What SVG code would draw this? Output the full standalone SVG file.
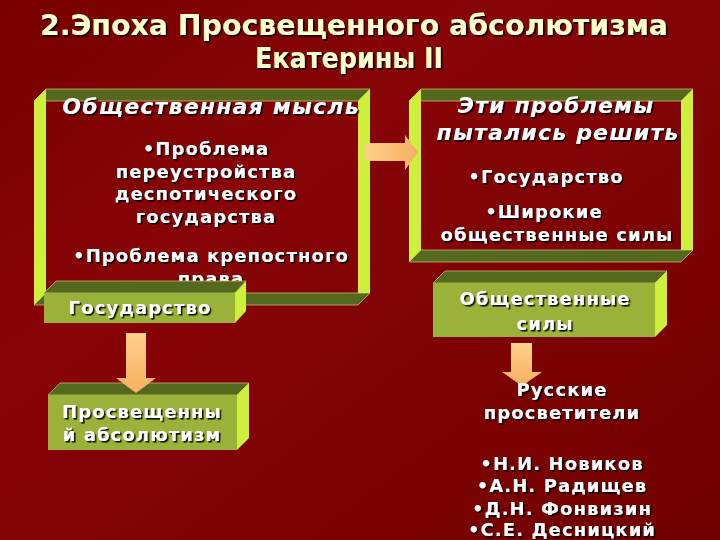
<svg xmlns="http://www.w3.org/2000/svg" width="720" height="540" viewBox="0 0 720 540">
<defs>
<linearGradient id="bg" x1="0" y1="0" x2="1" y2="1">
<stop offset="0" stop-color="#780000"/>
<stop offset="0.35" stop-color="#880508"/>
<stop offset="1" stop-color="#720000"/>
</linearGradient>
<linearGradient id="arrH" x1="0" y1="0" x2="1" y2="0">
<stop offset="0" stop-color="#ffd08a"/>
<stop offset="1" stop-color="#f5b060"/>
</linearGradient>
<linearGradient id="arrV" x1="0" y1="0" x2="0" y2="1">
<stop offset="0" stop-color="#ffd08a"/>
<stop offset="1" stop-color="#f5b060"/>
</linearGradient>
<filter id="sh" x="-10%" y="-20%" width="120%" height="150%">
<feDropShadow dx="1.6" dy="1.6" stdDeviation="0.4" flood-color="#000" flood-opacity="0.9"/>
</filter>
</defs>
<style>
.olive{fill:#55691e;stroke:#c8b56e;stroke-width:0.8}
.lime{fill:#ccf03c}
.front{fill:#9bb23a}
.t{font-family:"DejaVu Sans",Verdana,sans-serif;font-weight:bold;fill:#fff;text-anchor:middle;filter:url(#sh)}
.b{font-size:18px;letter-spacing:1.1px}
.hd{font-size:22px;font-style:italic;letter-spacing:1.2px}
.title{font-family:"DejaVu Sans Condensed","DejaVu Sans",sans-serif;font-weight:bold;font-size:28px;fill:#ffffcc;text-anchor:middle;filter:url(#sh)}
.arrow{stroke:none}
</style>
<rect x="0" y="0" width="720" height="540" fill="url(#bg)"/>

<g id="title">
<text class="title" x="354" y="35" textLength="628" lengthAdjust="spacingAndGlyphs">2.Эпоха Просвещенного  абсолютизма</text>
<text class="title" x="349" y="68" textLength="188" lengthAdjust="spacingAndGlyphs">Екатерины II</text>
</g>

<g id="box-public-thought">
<polygon class="olive" points="46,89 370,89 358,101 34,101"/>
<polygon class="olive" points="46,293 370,293 358,305 34,305"/>
<polygon class="lime" points="34,101 46,89 46,293 34,305"/>
<polygon class="lime" points="358,101 370,89 370,293 358,293"/>
<text class="t hd" x="211" y="114">Общественная мысль</text>
<text class="t b" x="206" y="155">•Проблема</text>
<text class="t b" x="206" y="178">переустройства</text>
<text class="t b" x="206" y="200">деспотического</text>
<text class="t b" x="206" y="223">государства</text>
<text class="t b" x="211" y="262">•Проблема крепостного</text>
<text class="t b" x="211" y="285">права</text>
</g>

<g id="box-solve">
<polygon class="olive" points="421,89 693,89 681,101 409,101"/>
<polygon class="olive" points="421,250 693,250 681,262 409,262"/>
<polygon class="lime" points="409,101 421,89 421,250 409,262"/>
<polygon class="lime" points="681,101 693,89 693,250 681,250"/>
<text class="t hd" x="556" y="113">Эти проблемы</text>
<text class="t hd" x="558" y="140">пытались решить</text>
<text class="t b" x="546" y="183">•Государство</text>
<text class="t b" x="544" y="218">•Широкие</text>
<text class="t b" x="557" y="241">общественные силы</text>
</g>

<g id="box-state">
<polygon class="olive" points="44,293 56,281 246,281 235,293"/>
<polygon class="lime" points="235,293 246,281 246,311 235,323"/>
<rect class="front" x="44" y="293" width="191" height="30"/>
<text class="t b" x="140" y="314">Государство</text>
</g>

<g id="box-enlightened-absolutism">
<polygon class="olive" points="48,395 60,383 249,383 237,395"/>
<polygon class="lime" points="237,395 249,383 249,438 237,450"/>
<rect class="front" x="48" y="395" width="189" height="55"/>
<text class="t b" x="142" y="418">Просвещенны</text>
<text class="t b" x="142" y="441">й абсолютизм</text>
</g>

<g id="box-social-forces">
<polygon class="olive" points="433,283 445,271 667,271 655,283"/>
<polygon class="lime" points="655,283 667,271 667,325 655,337"/>
<rect class="front" x="433" y="283" width="222" height="54"/>
<text class="t b" x="545" y="305">Общественные</text>
<text class="t b" x="545" y="330">силы</text>
</g>

<g id="connectors">
<polygon class="arrow" fill="url(#arrH)" points="365,143 405,143 405,135 418,152 405,170 405,161 365,161"/>
<polygon class="arrow" fill="url(#arrV)" points="126,333 146,333 146,378 156,378 136,393 116,378 126,378"/>
<polygon class="arrow" fill="url(#arrV)" points="511,343 532,343 532,372 542,372 522,386 502,372 511,372"/>
</g>

<g id="text-enlighteners">
<text class="t b" x="562" y="396">Русские</text>
<text class="t b" x="562" y="419">просветители</text>
<text class="t b" x="562" y="470">•Н.И. Новиков</text>
<text class="t b" x="562" y="492">•А.Н. Радищев</text>
<text class="t b" x="562" y="515">•Д.Н. Фонвизин</text>
<text class="t b" x="562" y="536">•С.Е. Десницкий</text>
</g>
</svg>
